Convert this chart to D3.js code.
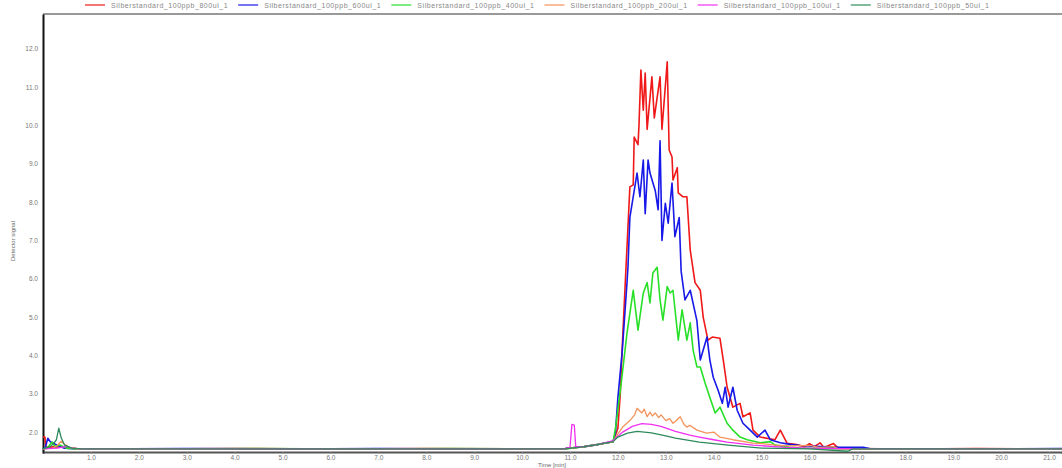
<!DOCTYPE html>
<html>
<head>
<meta charset="utf-8">
<script src="https://cdn.jsdelivr.net/npm/d3@7"></script>
<style>
  body { margin: 0; background: #fff; }
  svg { display: block; font-family: "Liberation Sans", Arial, sans-serif; }
</style>
</head>
<body>
<svg id="chart" width="1062" height="468"></svg>
<script>
// series names (legend order)
const seriesNames = [
    'Silberstandard_100ppb_800ul_1',
    'Silberstandard_100ppb_600ul_1',
    'Silberstandard_100ppb_400ul_1',
    'Silberstandard_100ppb_200ul_1',
    'Silberstandard_100ppb_100ul_1',
    'Silberstandard_100ppb_50ul_1'
];

// [time (min), detector signal]
const s800 = [[0,1.87],[0.04,1.87],[0.06,1.6],[0.3,1.62],[0.7,1.57],[2,1.56],[4,1.57],[6,1.56],[8,1.57],[10,1.56],[10.9,1.57],
    [11.3,1.62],[11.6,1.68],[11.9,1.75],[12.0,2.1],[12.05,3.0],[12.09,4.2],[12.15,5.8],[12.19,6.83],[12.25,8.4],[12.32,8.45],
    [12.34,9.7],[12.42,9.5],[12.44,10.0],[12.48,11.45],[12.53,10.4],[12.57,11.37],[12.61,9.9],[12.71,11.27],[12.76,10.2],
    [12.88,11.27],[12.92,9.9],[13.03,11.66],[13.07,9.36],[13.13,9.18],[13.15,8.58],[13.24,8.9],[13.26,8.24],[13.36,8.14],
    [13.44,8.14],[13.51,6.75],[13.61,5.9],[13.72,5.7],[13.78,5.0],[13.88,4.4],[13.97,4.48],[14.13,4.45],[14.2,3.88],
    [14.28,3.17],[14.4,2.65],[14.55,2.75],[14.61,2.4],[14.76,2.5],[14.82,2.05],[14.97,1.87],[15.28,1.8],[15.39,2.05],
    [15.53,1.71],[15.7,1.68],[15.9,1.62],[16.0,1.7],[16.1,1.62],[16.22,1.72],[16.3,1.6],[16.5,1.7],[16.6,1.58],
    [17,1.57],[18,1.56],[19.5,1.57],[21.3,1.56]];

const s600 = [[0,1.56],[0.05,1.6],[0.1,1.84],[0.15,1.75],[0.2,1.72],[0.3,1.65],[0.45,1.58],[0.7,1.56],[3,1.57],[5,1.56],
    [7,1.57],[9,1.56],[10.9,1.57],[11.3,1.62],[11.6,1.68],[11.9,1.75],[11.95,2.0],[12.0,2.9],[12.09,4.1],[12.19,5.9],
    [12.21,6.3],[12.25,7.6],[12.4,8.76],[12.46,8.14],[12.53,9.1],[12.57,7.7],[12.63,9.1],[12.67,8.76],[12.78,8.3],
    [12.84,7.8],[12.88,9.6],[12.92,7.0],[12.99,7.97],[13.05,7.45],[13.13,8.5],[13.19,7.1],[13.28,7.6],[13.32,6.2],
    [13.4,5.45],[13.51,5.7],[13.65,4.9],[13.72,3.88],[13.86,4.48],[13.92,3.88],[13.99,3.43],[14.09,3.1],[14.18,2.75],
    [14.24,3.17],[14.3,2.65],[14.4,3.17],[14.49,2.57],[14.61,2.23],[14.76,2.05],[14.91,1.87],[15.07,2.05],[15.18,1.8],
    [15.39,1.72],[15.6,1.68],[15.8,1.65],[16.22,1.62],[16.64,1.6],[17.12,1.6],[17.3,1.56],[19,1.56],[21.3,1.57]];

const s400 = [[0,1.56],[0.1,1.6],[0.19,1.74],[0.25,1.62],[0.35,1.66],[0.5,1.58],[0.7,1.56],[2.5,1.56],[4.5,1.57],[6.5,1.56],
    [8.5,1.57],[10.9,1.56],[11.3,1.62],[11.6,1.68],[11.9,1.75],[11.95,2.1],[12.07,3.28],[12.19,4.58],[12.32,5.7],
    [12.42,4.66],[12.53,5.63],[12.61,5.9],[12.67,5.37],[12.73,6.15],[12.82,6.3],[12.88,5.45],[12.94,4.92],[13.03,5.8],
    [13.09,5.63],[13.15,5.7],[13.26,4.4],[13.34,5.19],[13.44,4.4],[13.51,4.85],[13.57,4.14],[13.65,3.7],[13.72,3.7],
    [13.82,3.28],[13.92,2.9],[14.03,2.5],[14.13,2.65],[14.28,2.23],[14.4,2.05],[14.55,1.87],[14.7,1.8],[14.97,1.72],
    [15.18,1.75],[15.28,1.66],[15.6,1.6],[15.8,1.58],[17,1.56],[21.3,1.56]];

const s200 = [[0,1.56],[0.2,1.58],[0.3,1.65],[0.38,1.76],[0.45,1.68],[0.55,1.6],[0.7,1.56],[3,1.56],[6,1.57],[9,1.56],
    [10.9,1.56],[11.3,1.62],[11.6,1.68],[11.9,1.75],[12.0,1.95],[12.1,2.13],[12.25,2.3],[12.35,2.45],[12.4,2.62],
    [12.5,2.5],[12.55,2.6],[12.61,2.4],[12.67,2.52],[12.72,2.42],[12.78,2.5],[12.85,2.38],[12.9,2.45],[13.0,2.3],
    [13.08,2.35],[13.15,2.23],[13.22,2.3],[13.3,2.4],[13.38,2.2],[13.44,2.13],[13.5,2.18],[13.65,2.05],[13.85,1.97],
    [14.0,2.0],[14.13,1.87],[14.4,1.8],[14.82,1.71],[15.0,1.7],[15.3,1.66],[15.6,1.64],[16.0,1.65],[16.2,1.6],
    [16.5,1.62],[16.6,1.56],[21.3,1.56]];

const s100 = [[0,1.56],[0.3,1.58],[0.5,1.63],[0.6,1.58],[0.8,1.56],[4,1.56],[8,1.56],[10.9,1.56],[11.0,1.6],[11.04,2.2],
    [11.09,2.18],[11.12,1.62],[11.3,1.62],[11.6,1.68],[11.9,1.78],[12.1,2.0],[12.3,2.15],[12.5,2.22],[12.7,2.2],
    [12.9,2.15],[13.2,2.02],[13.5,1.92],[13.7,1.87],[14.0,1.8],[14.28,1.74],[14.82,1.66],[15.5,1.6],[16.0,1.58],
    [16.5,1.57],[21.3,1.56]];

const s50 = [[0,1.56],[0.15,1.62],[0.22,1.7],[0.28,1.8],[0.33,2.1],[0.38,1.85],[0.45,1.66],[0.6,1.58],[0.8,1.56],[5,1.56],
    [10.9,1.56],[11.3,1.62],[11.6,1.68],[11.9,1.75],[12.0,1.87],[12.2,1.97],[12.4,2.02],[12.7,1.98],[13.0,1.9],
    [13.2,1.84],[13.7,1.74],[14.3,1.66],[15.0,1.58],[16.0,1.56],[16.8,1.5],[16.9,1.56],[21.3,1.56]];

const seriesValues = [s800, s600, s400, s200, s100, s50];

const xTicks = d3.range(1, 22, 1);
const yTicks = d3.range(2, 13, 1);

const svg = d3.select('#chart');

const plot = { left: 43, right: 1062, top: 14, bottom: 452 };

const x = d3.scaleLinear().domain([0, 21.27]).range([plot.left, plot.right]);
const y = d3.scaleLinear().domain([1.48, 12.91]).range([plot.bottom, plot.top]);

const color = d3.scaleOrdinal()
    .domain(seriesNames)
    .range(['#f01818', '#1818e8', '#28e028', '#f4935a', '#f030f0', '#2e8b5c']);

// frame top
svg.append('line')
    .attr('x1', plot.left).attr('x2', plot.right)
    .attr('y1', plot.top).attr('y2', plot.top)
    .attr('stroke', '#999').attr('stroke-width', 2);

// axes
const xAxis = svg.append('g')
    .attr('transform', `translate(0,${plot.bottom})`)
    .call(d3.axisBottom(x).tickValues(xTicks).tickFormat(d3.format('.1f')).tickSize(2).tickPadding(1));
xAxis.select('.domain').attr('stroke', '#555').attr('stroke-width', 2);
xAxis.selectAll('.tick line').attr('stroke', '#888');
xAxis.selectAll('.tick text').attr('fill', '#777').attr('font-size', 6.5).attr('dy', '0.75em');

const yAxis = svg.append('g')
    .attr('transform', `translate(${plot.left},0)`)
    .call(d3.axisLeft(y).tickValues(yTicks).tickFormat(d3.format('.1f')).tickSize(0).tickPadding(5));
yAxis.select('.domain').attr('stroke', '#111').attr('stroke-width', 2);
yAxis.selectAll('.tick text').attr('fill', '#777').attr('font-size', 6.5);

svg.append('text')
    .attr('x', 552).attr('y', 467)
    .attr('text-anchor', 'middle')
    .attr('font-size', 6).attr('fill', '#666')
    .text('Time [min]');

svg.append('text')
    .attr('transform', 'translate(15,241) rotate(-90)')
    .attr('text-anchor', 'middle')
    .attr('font-size', 6).attr('fill', '#666')
    .text('Detector signal');

// traces
const line = d3.line().x(d => x(d[0])).y(d => y(d[1]));

svg.append('g')
    .attr('class', 'traces')
    .selectAll('path')
    .data(seriesValues)
    .enter()
    .append('path')
    .attr('fill', 'none')
    .attr('stroke', (d, i) => color(seriesNames[i]))
    .attr('stroke-width', (d, i) => i < 3 ? 1.6 : 1.3)
    .attr('stroke-linejoin', 'round')
    .attr('d', line);

// legend
const legend = svg.append('g').attr('class', 'legend');
let lx = 85;
seriesNames.forEach(function(name) {
    const gg = legend.append('g');
    gg.append('line')
        .attr('x1', lx).attr('x2', lx + 20)
        .attr('y1', 5).attr('y2', 5)
        .attr('stroke', color(name)).attr('stroke-width', 1.2);
    const t = gg.append('text')
        .attr('x', lx + 26).attr('y', 7.5)
        .attr('font-size', 7).attr('letter-spacing', 0.55).attr('fill', '#888')
        .text(name);
    lx += 26 + t.node().getComputedTextLength() + 10;
});
</script>
</body>
</html>
